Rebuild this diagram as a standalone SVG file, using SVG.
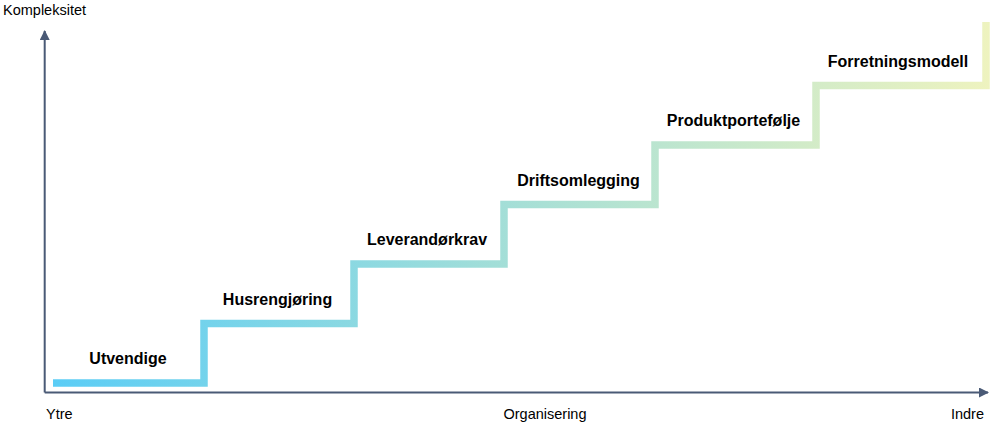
<svg xmlns="http://www.w3.org/2000/svg" width="1000" height="428" viewBox="0 0 1000 428">
  <defs>
    <linearGradient id="stairGrad" gradientUnits="userSpaceOnUse" x1="53" y1="0" x2="990" y2="0">
      <stop offset="0" stop-color="#5bcdf6"/>
      <stop offset="0.5" stop-color="#a6dfd6"/>
      <stop offset="1" stop-color="#eef3bf"/>
    </linearGradient>
    <marker id="arrow" viewBox="0 0 10 10" refX="9" refY="5" markerWidth="14" markerHeight="10" markerUnits="userSpaceOnUse" orient="auto">
      <path d="M0,0 L10,5 L0,10 z" fill="#4a5a76"/>
    </marker>
    <style>
      .axis { stroke: #4a5a76; stroke-width: 2; fill: none; }
      .axlabel { font-family: "Liberation Sans", Arial, sans-serif; font-size: 14.5px; fill: #000; }
      .step { font-family: "Liberation Sans", Arial, sans-serif; font-size: 16px; font-weight: bold; fill: #000; text-anchor: middle; }
      .stair { stroke: url(#stairGrad); stroke-width: 7.5; fill: none; stroke-linejoin: miter; stroke-linecap: butt; }
    </style>
  </defs>

  <g id="connectors">
    <path class="axis" d="M44.7,392.5 L44.7,31" marker-end="url(#arrow)"/>
    <path class="axis" d="M44.7,392.5 L988,392.5" marker-end="url(#arrow)"/>
    <path class="stair" d="M53,383 H204 V323.5 H354 V264 H504 V204.5 H655 V145 H816 V85.5 H986 V22"/>
  </g>

  <g id="axis-labels">
    <text class="axlabel" x="3" y="15">Kompleksitet</text>
    <text class="axlabel" x="46" y="419">Ytre</text>
    <text class="axlabel" x="545" y="419" text-anchor="middle">Organisering</text>
    <text class="axlabel" x="984" y="419" text-anchor="end">Indre</text>
  </g>

  <g id="step-utvendige"><text class="step" x="128" y="364">Utvendige</text></g>
  <g id="step-husrengjoring"><text class="step" x="277.5" y="304.5">Husrengjøring</text></g>
  <g id="step-leverandorkrav"><text class="step" x="427" y="245">Leverandørkrav</text></g>
  <g id="step-driftsomlegging"><text class="step" x="578.5" y="185.5">Driftsomlegging</text></g>
  <g id="step-produktportefolje"><text class="step" x="733.5" y="126">Produktportefølje</text></g>
  <g id="step-forretningsmodell"><text class="step" x="898" y="66.5">Forretningsmodell</text></g>
</svg>
